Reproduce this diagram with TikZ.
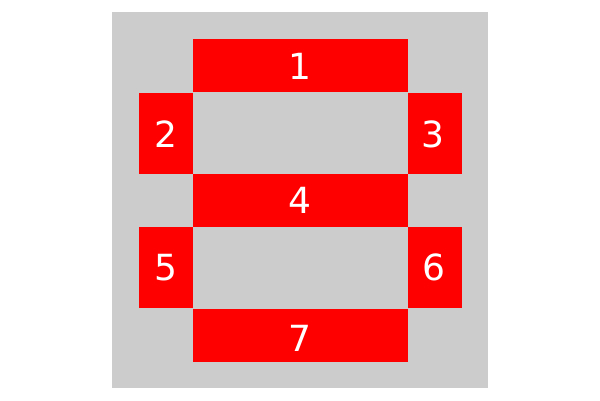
\documentclass[tikz,border=0pt]{standalone}
\usepackage{fontspec}
\setmainfont{DejaVu Sans}
\definecolor{bggray}{HTML}{CCCCCC}
\definecolor{segred}{HTML}{FF0000}
\tikzset{
  seg/.style={fill=segred, draw=none, inner sep=0pt, outer sep=0pt},
  hseg/.style={seg, minimum width=215pt, minimum height=53pt},
  vseg/.style={seg, minimum width=54pt, minimum height=81pt},
  digit/.style={text=white, font=\fontsize{36}{40}\selectfont, inner sep=0pt, outer sep=0pt},
}
\begin{document}
\begin{tikzpicture}[x=1pt,y=-1pt]
\useasboundingbox (0,0) rectangle (600,400);
\fill[bggray] (112,12) rectangle (488,388);
\node[hseg] (s1) at (300.5,65.5) {};
\node[vseg] (s2) at (166,133.5) {};
\node[vseg] (s3) at (435,133.5) {};
\node[hseg] (s4) at (300.5,200.5) {};
\node[vseg] (s5) at (166,267.5) {};
\node[vseg] (s6) at (435,267.5) {};
\node[hseg] (s7) at (300.5,335) {};
\node[digit] (d1) at (299.8,66.3) {1};
\node[digit] (d2) at (166,134) {2};
\node[digit] (d3) at (433,134) {3};
\node[digit] (d4) at (300.3,200.8) {4};
\node[digit] (d5) at (165.8,267.5) {5};
\node[digit] (d6) at (433.6,267) {6};
\node[digit] (d7) at (300,338.5) {7};
\end{tikzpicture}
\end{document}
